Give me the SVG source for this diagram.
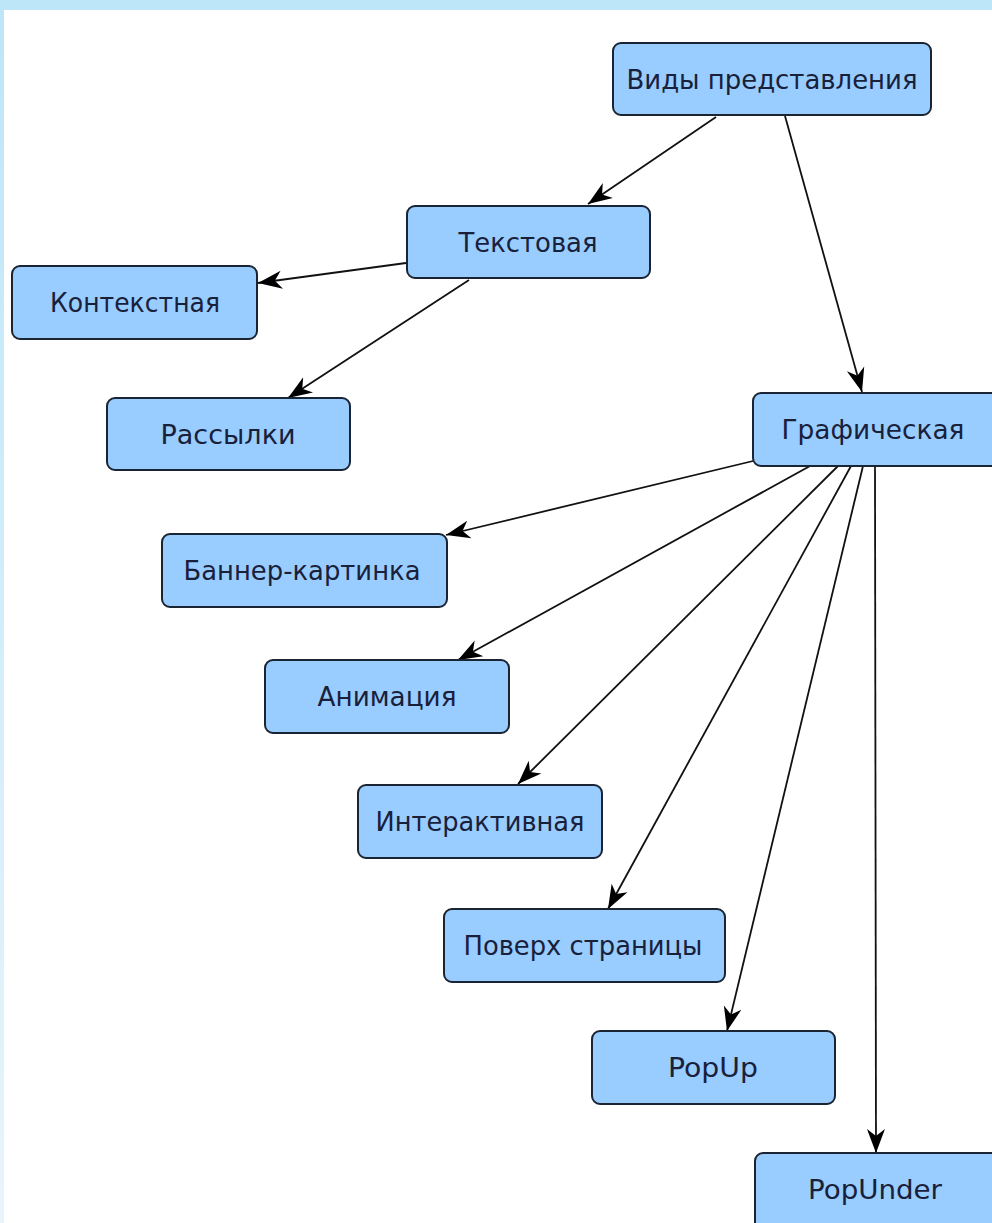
<svg xmlns="http://www.w3.org/2000/svg" width="992" height="1223" viewBox="0 0 992 1223">
<defs>
<linearGradient id="side" x1="0" y1="0" x2="0" y2="1">
<stop offset="0" stop-color="#bde6f8"/>
<stop offset="0.6" stop-color="#d6eefa"/>
<stop offset="1" stop-color="#e8f4fa"/>
</linearGradient>
<marker id="arr" markerUnits="userSpaceOnUse" markerWidth="26" markerHeight="22" viewBox="0 0 26 22" refX="24" refY="11" orient="auto">
<path d="M0,2 L24,11 L0,20 L7,11 z" fill="#000"/>
</marker>
<style>
.box{fill:#99ccff;stroke:#1b2433;stroke-width:2}
.lbl{font-family:"DejaVu Sans","Liberation Sans",sans-serif;font-size:26.5px;fill:#18203a;text-anchor:middle}
.edge{stroke:#111;stroke-width:1.8;fill:none;marker-end:url(#arr)}
</style>
</defs>
<rect x="0" y="0" width="992" height="1223" fill="#ffffff"/>
<rect x="0" y="0" width="992" height="10" fill="#bde6f8"/>
<rect x="0" y="0" width="4" height="1223" fill="url(#side)"/>
<g id="connectors">
<line class="edge" x1="716" y1="117" x2="588" y2="204"/>
<line class="edge" x1="785" y1="116" x2="862" y2="392"/>
<line class="edge" x1="406" y1="263" x2="258" y2="283"/>
<line class="edge" x1="469" y1="280" x2="288" y2="398"/>
<line class="edge" x1="753" y1="461" x2="446" y2="535"/>
<line class="edge" x1="810" y1="466" x2="458" y2="660"/>
<line class="edge" x1="838" y1="466" x2="518" y2="784"/>
<line class="edge" x1="851" y1="466" x2="608" y2="909"/>
<line class="edge" x1="863" y1="466" x2="727" y2="1031"/>
<line class="edge" x1="875" y1="466" x2="876" y2="1153"/>
</g>
<g id="n-vidy"><rect class="box" x="613" y="43" width="318" height="72" rx="8"/><text class="lbl" x="772" y="89" textLength="291" lengthAdjust="spacingAndGlyphs">Виды представления</text></g>
<g id="n-tekst"><rect class="box" x="407" y="206" width="243" height="72" rx="8"/><text class="lbl" x="528" y="252" textLength="139" lengthAdjust="spacingAndGlyphs">Текстовая</text></g>
<g id="n-kontekst"><rect class="box" x="12" y="266" width="245" height="73" rx="8"/><text class="lbl" x="135" y="312" textLength="170" lengthAdjust="spacingAndGlyphs">Контекстная</text></g>
<g id="n-rassylki"><rect class="box" x="107" y="398" width="243" height="72" rx="8"/><text class="lbl" x="228" y="444" textLength="135" lengthAdjust="spacingAndGlyphs">Рассылки</text></g>
<g id="n-graf"><rect class="box" x="753" y="393" width="250" height="73" rx="8"/><text class="lbl" x="873" y="439" textLength="183" lengthAdjust="spacingAndGlyphs">Графическая</text></g>
<g id="n-banner"><rect class="box" x="162" y="534" width="285" height="73" rx="8"/><text class="lbl" x="302" y="580" textLength="237" lengthAdjust="spacingAndGlyphs">Баннер-картинка</text></g>
<g id="n-anim"><rect class="box" x="265" y="660" width="244" height="73" rx="8"/><text class="lbl" x="387" y="706" textLength="139" lengthAdjust="spacingAndGlyphs">Анимация</text></g>
<g id="n-inter"><rect class="box" x="358" y="785" width="244" height="73" rx="8"/><text class="lbl" x="480" y="831" textLength="209" lengthAdjust="spacingAndGlyphs">Интерактивная</text></g>
<g id="n-poverh"><rect class="box" x="444" y="909" width="281" height="73" rx="8"/><text class="lbl" x="583" y="955" textLength="239" lengthAdjust="spacingAndGlyphs">Поверх страницы</text></g>
<g id="n-popup"><rect class="box" x="592" y="1031" width="243" height="73" rx="8"/><text class="lbl" x="713" y="1077" textLength="90" lengthAdjust="spacingAndGlyphs">PopUp</text></g>
<g id="n-popunder"><rect class="box" x="755" y="1153" width="250" height="80" rx="8"/><text class="lbl" x="875" y="1199" textLength="134" lengthAdjust="spacingAndGlyphs">PopUnder</text></g>
</svg>
